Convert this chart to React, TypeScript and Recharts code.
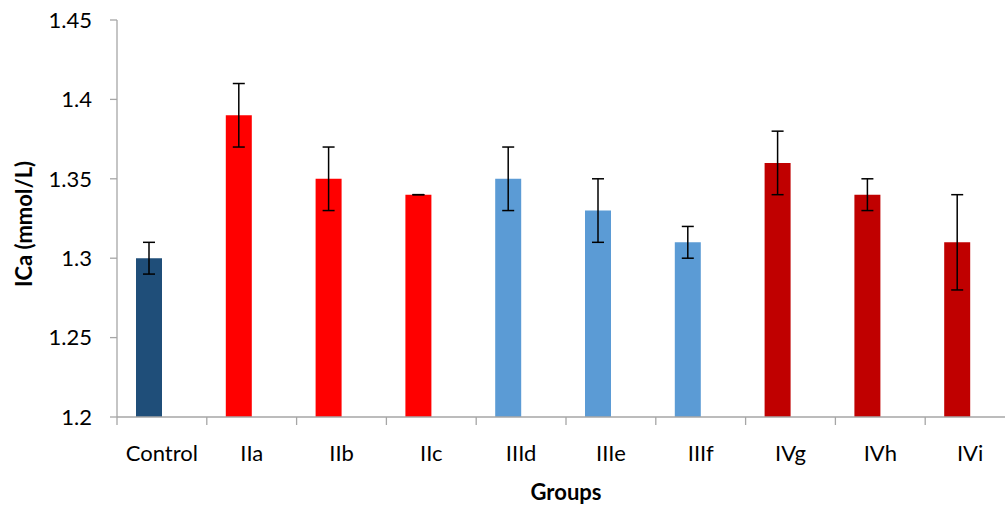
import { BarChart, Bar, XAxis, YAxis, Cell, ErrorBar, Label } from 'recharts'

const groups = ['Control', 'IIa', 'IIb', 'IIc', 'IIId', 'IIIe', 'IIIf', 'IVg', 'IVh', 'IVi']
const ica = [1.3, 1.39, 1.35, 1.34, 1.35, 1.33, 1.31, 1.36, 1.34, 1.31]
const icaErr = [0.01, 0.02, 0.02, 0, 0.02, 0.02, 0.01, 0.02, 0.01, 0.03]
const barColors = [
  '#1F4E79',
  '#FF0000', '#FF0000', '#FF0000',
  '#5B9BD5', '#5B9BD5', '#5B9BD5',
  '#C00000', '#C00000', '#C00000',
]
const yTicks = [1.2, 1.25, 1.3, 1.35, 1.4, 1.45]
const yTickLabels = ['1.2', '1.25', '1.3', '1.35', '1.4', '1.45']

// symmetric [low, high] pairs so a zero error still draws its cap
const data = groups.map((group, i) => ({ group, ica: ica[i], err: [icaErr[i], icaErr[i]] }))

const FONT = 'Lato, "Open Sans", sans-serif'
const AXIS = '#A6A6A6'

// category label centred, tick mark on the left edge of the band (Excel style)
const GroupTick = (props: any) => {
  const { x, y, payload } = props
  const half = payload?.offset ?? 44.9
  return (
    <g>
      <line x1={x - half} x2={x - half} y1={y} y2={y + 8} stroke={AXIS} strokeWidth={1.3} />
      <text x={x} y={y + 44} textAnchor="middle" fontFamily={FONT} fontSize={22} fill="#000">
        {payload.value}
      </text>
    </g>
  )
}

export default function App() {
  return (
    <div
      style={{
        position: 'fixed',
        left: 0,
        top: 0,
        width: 1005,
        height: 506,
        overflow: 'hidden',
        background: '#fff',
      }}
    >
      <BarChart
        width={1030}
        height={506}
        data={data}
        barSize={26}
        barGap={0}
        margin={{ top: 20, right: 15, left: 0, bottom: 0 }}
      >
        <XAxis
          dataKey="group"
          height={89}
          axisLine={{ stroke: AXIS, strokeWidth: 1.3 }}
          tickLine={false}
          tickSize={0}
          tickMargin={0}
          interval={0}
          tick={<GroupTick />}
        >
          <Label
            content={() => (
              <text x={566} y={500} textAnchor="middle" fontFamily={FONT} fontWeight="bold" fontSize={22} fill="#000">
                Groups
              </text>
            )}
          />
        </XAxis>
        <YAxis
          width={117}
          domain={[1.2, 1.45]}
          ticks={yTicks}
          allowDataOverflow
          tickFormatter={(v: number) => yTickLabels[yTicks.indexOf(v)] ?? String(v)}
          axisLine={{ stroke: AXIS, strokeWidth: 1.3 }}
          tickLine={{ stroke: AXIS, strokeWidth: 1.3 }}
          tickSize={7}
          tickMargin={18}
          tick={{ fontFamily: FONT, fontSize: 22, fill: '#000' }}
        >
          <Label
            content={() => (
              <text
                x={23}
                y={224}
                transform="rotate(-90 23 224)"
                textAnchor="middle"
                dominantBaseline="central"
                fontFamily={FONT}
                fontWeight="bold"
                fontSize={22}
                fill="#000"
              >
                ICa (mmol/L)
              </text>
            )}
          />
        </YAxis>
        <Bar dataKey="ica" isAnimationActive={false}>
          {data.map((_, i) => (
            <Cell key={i} fill={barColors[i]} />
          ))}
          <ErrorBar dataKey="err" width={6} stroke="#000" strokeWidth={1.5} />
        </Bar>
        {/* empty second series keeps the bars on the left half of each category */}
        <Bar dataKey="blank" legendType="none" isAnimationActive={false} />
      </BarChart>
    </div>
  )
}
